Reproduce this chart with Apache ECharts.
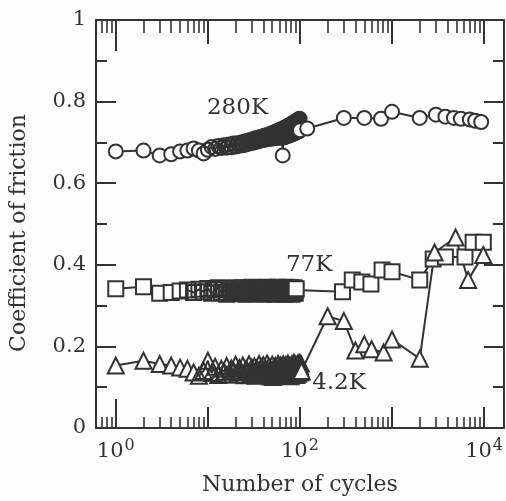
<!DOCTYPE html>
<html><head><meta charset="utf-8">
<script src="https://cdn.jsdelivr.net/npm/echarts@6/dist/echarts.min.js"></script>
<style>html,body{margin:0;padding:0;background:#fdfdfd}#c{width:506px;height:501px}</style>
</head><body><div id="c"></div>
<script>
// ---- data ----
const cycles280 = [1,2,3,4,5,6,7,8,9,
  10,11,12,13,14,15,16,17,18,19,20,21,22,23,24,25,26,27,28,29,30,31,32,33,34,35,36,37,38,39,40,
  41,42,43,44,45,46,47,48,49,50,51,52,53,54,55,56,57,58,59,60,61,62,63,64,65,66,67,68,69,70,
  71,72,73,74,75,76,77,78,79,80,81,82,83,84,85,86,87,88,89,90,91,92,93,94,95,96,97,98,99,100,
  120,300,500,760,1000,2000,3000,3800,4700,5600,7000,8000,9300];
const mu280 = [0.678,0.680,0.668,0.671,0.678,0.680,0.685,0.680,0.673,
  0.682,0.689,0.684,0.691,0.686,0.693,0.687,0.695,0.688,0.697,0.690,0.698,0.692,0.700,0.693,0.702,0.695,0.704,0.697,0.706,0.699,0.708,0.700,0.710,0.702,0.711,0.703,0.713,0.705,0.714,0.706,
  0.716,0.707,0.717,0.708,0.719,0.709,0.720,0.709,0.722,0.710,0.723,0.710,0.725,0.711,0.726,0.711,0.728,0.712,0.729,0.712,0.731,0.712,0.732,0.713,0.668,0.712,0.735,0.713,0.736,0.714,
  0.738,0.715,0.739,0.716,0.741,0.717,0.742,0.718,0.744,0.719,0.745,0.720,0.747,0.721,0.748,0.722,0.749,0.723,0.751,0.724,0.752,0.725,0.753,0.726,0.755,0.727,0.756,0.728,0.758,0.730,
  0.734,0.760,0.760,0.758,0.775,0.760,0.768,0.763,0.760,0.758,0.756,0.753,0.750];

const cycles77 = [1,2,3,4,5,
  6,7,8,9,10,11,12,13,14,15,16,17,18,19,20,21,22,23,24,25,26,27,28,29,30,31,32,33,34,35,36,37,38,39,40,
  41,42,43,44,45,46,47,48,49,50,51,52,53,54,55,56,57,58,59,60,61,62,63,64,65,66,67,68,69,70,
  71,72,73,74,75,76,77,78,79,80,81,82,83,84,85,86,87,88,89,90,91,
  290,370,470,590,780,1000,2000,2800,3800,6200,7600,9800];
const mu77 = [0.341,0.346,0.330,0.332,0.336,
  0.338,0.332,0.340,0.334,0.342,0.330,0.338,0.344,0.332,0.340,0.328,0.342,0.336,0.330,0.344,0.333,0.339,0.329,0.343,0.335,0.328,0.341,0.337,0.331,0.345,0.334,0.340,0.329,0.343,0.336,0.330,0.344,0.333,0.339,0.328,
  0.342,0.335,0.331,0.345,0.334,0.340,0.329,0.343,0.336,0.330,0.344,0.333,0.339,0.328,0.342,0.335,0.331,0.345,0.334,0.340,0.329,0.343,0.336,0.330,0.344,0.333,0.339,0.328,0.342,0.335,
  0.331,0.345,0.334,0.340,0.329,0.343,0.336,0.330,0.344,0.333,0.339,0.328,0.342,0.335,0.331,0.344,0.334,0.340,0.330,0.338,0.341,
  0.334,0.363,0.358,0.353,0.387,0.383,0.363,0.414,0.419,0.419,0.455,0.455];

const cycles42 = [1,2,3,4,5,6,7,
  8,9,10,11,12,13,14,15,16,17,18,19,20,21,22,23,24,25,26,27,28,29,30,31,32,33,34,35,36,37,38,39,40,
  41,42,43,44,45,46,47,48,49,50,51,52,53,54,55,56,57,58,59,60,61,62,63,64,65,66,67,68,69,70,
  71,72,73,74,75,76,77,78,79,80,81,82,83,84,85,86,87,88,89,90,91,92,93,94,95,96,97,98,99,100,101,102,103,104,
  200,300,400,500,600,810,1000,2000,2900,4900,6700,9800];
const mu42 = [0.153,0.165,0.157,0.153,0.148,0.145,0.136,
  0.128,0.140,0.165,0.135,0.150,0.130,0.145,0.138,0.152,0.132,0.146,0.140,0.155,0.131,0.147,0.137,0.153,0.129,0.144,0.139,0.156,0.133,0.148,0.136,0.151,0.128,0.145,0.141,0.157,0.132,0.149,0.137,0.154,
  0.130,0.146,0.140,0.158,0.134,0.150,0.127,0.143,0.138,0.155,0.125,0.147,0.136,0.152,0.131,0.145,0.141,0.157,0.129,0.150,0.136,0.153,0.132,0.146,0.139,0.156,0.128,0.148,0.137,0.154,
  0.133,0.145,0.140,0.158,0.130,0.150,0.135,0.152,0.127,0.147,0.141,0.156,0.132,0.149,0.137,0.160,0.134,0.146,0.142,0.155,0.130,0.151,0.138,0.157,0.133,0.148,0.143,0.160,0.136,0.152,0.145,0.158,0.138,0.140,
  0.274,0.262,0.190,0.205,0.193,0.185,0.217,0.170,0.430,0.467,0.363,0.424];

const seriesNames = ['280K','77K','4.2K'];
const labelPos = [[21,0.785],[126,0.40],[266,0.111]];   // annotation anchors (data space)
// cycle ranges where the markers pile up into a dark band (drawn as bare outlines)
const denseRanges = [[10,99],[6,90],[8,103]];
const openExceptions = [[65],[],[]];

const xMajorTicks = [10,100,1000,10000];
const xFirstTick = [1];
const xMinorTicks = [0.7,0.8,0.9,2,3,4,5,6,7,8,9,20,30,40,50,60,70,80,90,200,300,400,500,600,700,800,900,2000,3000,4000,5000,6000,7000,8000,9000];
const xLabelTicks = [1,100,10000];
const yTickLabels = {0:'0',0.2:'0.2',0.4:'0.4',0.6:'0.6',0.8:'0.8',1:'1'};

// ---- chart ----
const INK = '#333';
const BG = '#fdfdfd';
const FONT = 'DejaVu Serif';
const X_MIN = 0.61, X_MAX = 16400;

function xAx(pos, ticks, len, opts) {
  return Object.assign({
    type: 'log', logBase: 10, position: pos, min: X_MIN, max: X_MAX,
    axisLine: {show: false},
    axisTick: {show: true, inside: true, length: len, customValues: ticks, lineStyle: {color: INK, width: 2}},
    axisLabel: {show: false},
    splitLine: {show: false}, minorTick: {show: false}, minorSplitLine: {show: false}
  }, opts || {});
}

const xAxes = [
  xAx('bottom', xMajorTicks, 21, {
    axisLine: {show: true, onZero: false, lineStyle: {color: INK, width: 2}},
    axisLabel: {show: true, customValues: xLabelTicks, margin: 10, color: INK,
      formatter: v => '{b|10}{s|' + Math.round(Math.log10(v)) + '}',
      rich: {b: {fontFamily: FONT, fontSize: 21, color: INK},
             s: {fontFamily: FONT, fontSize: 16, color: INK, padding: [0,0,12,1]}}},
    name: 'Number of cycles', nameLocation: 'middle', nameGap: 46,
    nameTextStyle: {fontFamily: FONT, fontSize: 22, color: INK}
  }),
  xAx('bottom', xFirstTick, 29),
  xAx('bottom', xMinorTicks, 11, {axisTick: {show: true, inside: true, length: 11, customValues: xMinorTicks, lineStyle: {color: INK, width: 1.6}}}),
  xAx('top', xMajorTicks, 24, {axisLine: {show: true, onZero: false, lineStyle: {color: INK, width: 2}}}),
  xAx('top', xFirstTick, 31),
  xAx('top', xMinorTicks, 13, {axisTick: {show: true, inside: true, length: 13, customValues: xMinorTicks, lineStyle: {color: INK, width: 1.6}}})
];

function yAx(pos, showLabel) {
  return {
    type: 'value', position: pos, min: 0, max: 1, interval: 0.2,
    axisLine: {show: true, onZero: false, lineStyle: {color: INK, width: 2}},
    axisTick: {show: true, inside: true, length: 20, lineStyle: {color: INK, width: 2}},
    minorTick: {show: true, splitNumber: 2, length: 11, lineStyle: {color: INK, width: 2}},
    splitLine: {show: false},
    axisLabel: {show: showLabel, margin: 10, color: INK, fontFamily: FONT, fontSize: 21,
      formatter: v => yTickLabels[Math.round(v*10)/10] ?? ''}
  };
}
const yAxes = [yAx('left', true), yAx('right', false)];
yAxes[0].name = 'Coefficient of friction';
yAxes[0].nameLocation = 'middle';
yAxes[0].nameGap = 66;
yAxes[0].nameTextStyle = {fontFamily: FONT, fontSize: 22, color: INK, padding: [0, 18, 0, 0]};

const symbols = ['circle','rect','triangle'];
const sizes = [14,15,16];
const xs = [cycles280, cycles77, cycles42];
const ys = [mu280, mu77, mu42];

const series = seriesNames.map((nm, i) => ({
  name: nm, type: 'line', xAxisIndex: 0, yAxisIndex: 0,
  data: xs[i].map((c, k) => {
    const dense = c >= denseRanges[i][0] && c <= denseRanges[i][1] && openExceptions[i].indexOf(c) < 0;
    return dense ? {value: [c, ys[i][k]], itemStyle: {color: 'rgba(0,0,0,0)'}} : [c, ys[i][k]];
  }),
  symbol: symbols[i], symbolSize: sizes[i], showAllSymbol: true,
  lineStyle: {color: INK, width: 2},
  itemStyle: {color: BG, borderColor: INK, borderWidth: 2},
  animation: false, silent: true,
  markPoint: {
    symbol: 'circle', symbolSize: 1, itemStyle: {color: 'rgba(0,0,0,0)'},
    label: {show: true, position: 'inside', formatter: nm, color: INK, fontFamily: FONT, fontSize: 23},
    data: [{coord: labelPos[i]}]
  }
}));

const chart = echarts.init(document.getElementById('c'), null, {renderer: 'canvas'});
chart.setOption({
  backgroundColor: BG,
  animation: false,
  grid: {left: 95, top: 20, width: 412, height: 413, containLabel: false},
  xAxis: xAxes,
  yAxis: yAxes,
  series: series
});
</script></body></html>
